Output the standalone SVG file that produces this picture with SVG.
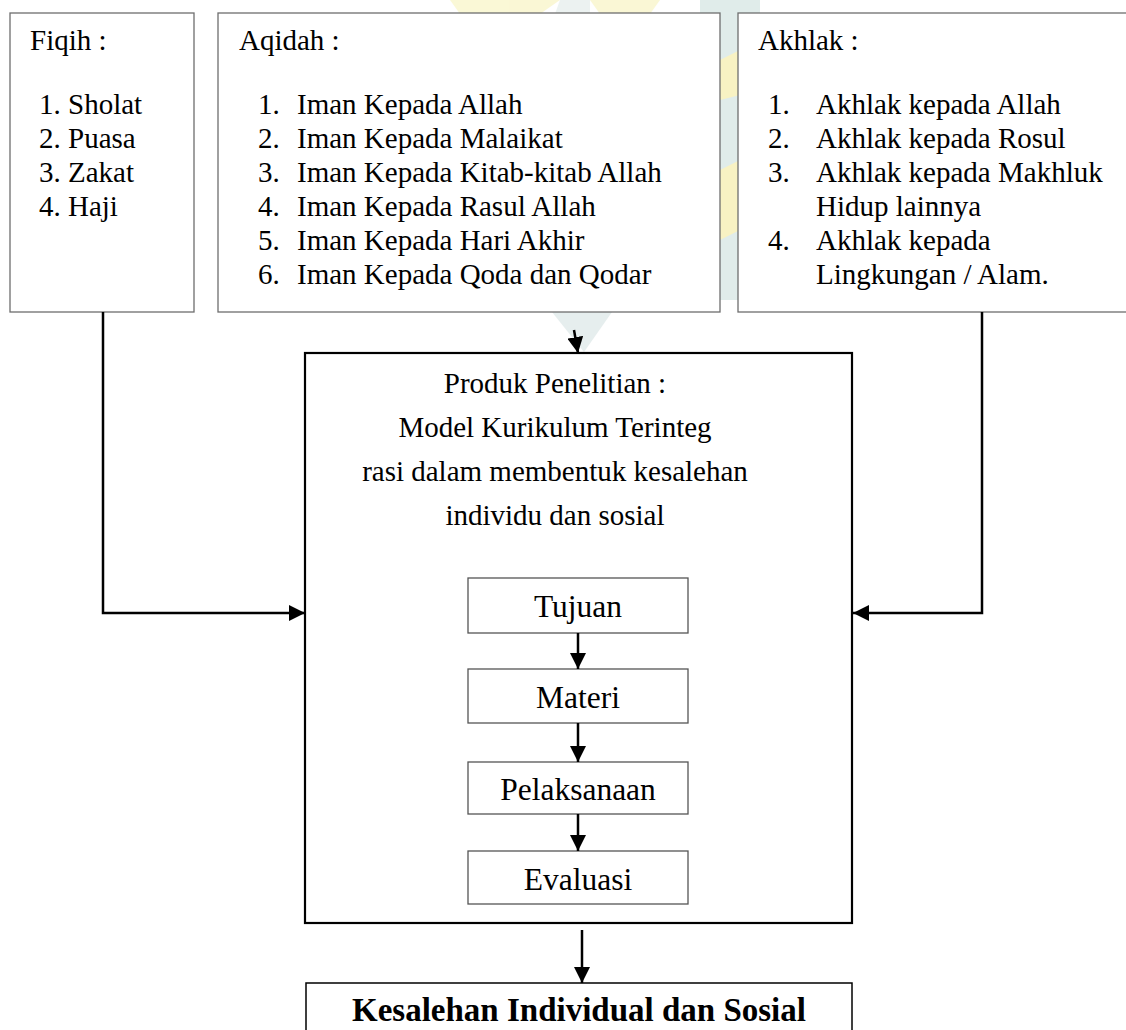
<svg xmlns="http://www.w3.org/2000/svg" width="1126" height="1030" viewBox="0 0 1126 1030">
<style>
  text { font-family: "Liberation Serif", "Times New Roman", serif; fill: #000; }
  .t29 { font-size: 29px; }
  .t32 { font-size: 31.5px; }
  .bold { font-size: 33px; font-weight: bold; }
  .box { fill: #fff; stroke: #6e6e6e; stroke-width: 1.3; }
  .main { fill: #fff; stroke: #000; stroke-width: 2.2; }
  .inner { fill: #fff; stroke: #555; stroke-width: 1.3; }
  .conn { fill: none; stroke: #000; stroke-width: 2.5; }
  .mid { text-anchor: middle; }
</style>
<defs>
  <marker id="arr" markerUnits="userSpaceOnUse" markerWidth="16" markerHeight="16" viewBox="0 0 16 16" refX="16" refY="8" orient="auto">
    <path d="M0,0 L16,8 L0,16 Z" fill="#000"/>
  </marker>
</defs>
<rect width="1126" height="1030" fill="#fff"/>
<g id="watermark" opacity="0.35">
  <polygon points="450,0 560,0 540,14 460,14" fill="#f2ea8a"/>
  <polygon points="590,0 660,0 650,14 600,14" fill="#f2ea8a"/>
  <polygon points="560,0 590,0 590,14 555,14" fill="#c9dcd9"/>
  <polygon points="700,0 760,0 760,300 720,300 700,14" fill="#a9c9c4"/>
  <polygon points="720,60 740,50 740,95 720,100" fill="#ecdc55"/>
  <polygon points="720,170 740,160 740,230 720,240" fill="#ecdc55"/>
  <polygon points="552,312 612,312 584,352" fill="#b8cfcf"/>
</g>
<g id="fiqih">
  <rect class="box" x="10" y="13" width="184" height="299"/>
  <text class="t29" x="30" y="50">Fiqih :</text>
  <text class="t29" x="39" y="114">1. Sholat</text>
  <text class="t29" x="39" y="148">2. Puasa</text>
  <text class="t29" x="39" y="182">3. Zakat</text>
  <text class="t29" x="39" y="216">4. Haji</text>
</g>
<g id="aqidah">
  <rect class="box" x="218" y="13" width="502" height="299"/>
  <text class="t29" x="239" y="50">Aqidah :</text>
  <g class="t29">
    <text x="258" y="114">1.</text><text x="297" y="114">Iman Kepada Allah</text>
    <text x="258" y="148">2.</text><text x="297" y="148">Iman Kepada Malaikat</text>
    <text x="258" y="182">3.</text><text x="297" y="182">Iman Kepada Kitab-kitab Allah</text>
    <text x="258" y="216">4.</text><text x="297" y="216">Iman Kepada Rasul Allah</text>
    <text x="258" y="250">5.</text><text x="297" y="250">Iman Kepada Hari Akhir</text>
    <text x="258" y="284">6.</text><text x="297" y="284">Iman Kepada Qoda dan Qodar</text>
  </g>
</g>
<g id="akhlak">
  <rect class="box" x="738" y="13" width="400" height="299"/>
  <text class="t29" x="758" y="50">Akhlak :</text>
  <g class="t29">
    <text x="768" y="114">1.</text><text x="816" y="114">Akhlak kepada Allah</text>
    <text x="768" y="148">2.</text><text x="816" y="148">Akhlak kepada Rosul</text>
    <text x="768" y="182">3.</text><text x="816" y="182">Akhlak kepada Makhluk</text>
    <text x="816" y="216">Hidup lainnya</text>
    <text x="768" y="250">4.</text><text x="816" y="250">Akhlak kepada</text>
    <text x="816" y="284">Lingkungan / Alam.</text>
  </g>
</g>
<g id="produk">
  <rect class="main" x="305" y="353" width="547" height="570"/>
  <text class="t29 mid" x="555" y="393">Produk Penelitian :</text>
  <text class="t29 mid" x="555" y="437">Model Kurikulum Terinteg</text>
  <text class="t29 mid" x="555" y="481">rasi dalam membentuk kesalehan</text>
  <text class="t29 mid" x="555" y="525">individu dan sosial</text>
</g>
<g id="tujuan">
  <rect class="inner" x="468" y="578" width="220" height="55"/>
  <text class="t32 mid" x="578" y="617">Tujuan</text>
</g>
<g id="materi">
  <rect class="inner" x="468" y="669" width="220" height="54"/>
  <text class="t32 mid" x="578" y="708">Materi</text>
</g>
<g id="pelaksanaan">
  <rect class="inner" x="468" y="762" width="220" height="52"/>
  <text class="t32 mid" x="578" y="800">Pelaksanaan</text>
</g>
<g id="evaluasi">
  <rect class="inner" x="468" y="851" width="220" height="53"/>
  <text class="t32 mid" x="578" y="890">Evaluasi</text>
</g>
<g id="kesalehan">
  <rect fill="#fff" stroke="#000" stroke-width="1.5" x="306" y="983" width="546" height="60"/>
  <text class="bold mid" x="579" y="1021">Kesalehan Individual dan Sosial</text>
</g>
<g id="connectors">
  <polyline class="conn" points="103,312 103,613 305,613" marker-end="url(#arr)"/>
  <polyline class="conn" points="982,312 982,613 853,613" marker-end="url(#arr)"/>
  <line class="conn" x1="574" y1="330" x2="578" y2="353" marker-end="url(#arr)"/>
  <line class="conn" x1="578" y1="633" x2="578" y2="669" marker-end="url(#arr)"/>
  <line class="conn" x1="578" y1="723" x2="578" y2="762" marker-end="url(#arr)"/>
  <line class="conn" x1="578" y1="814" x2="578" y2="851" marker-end="url(#arr)"/>
  <line class="conn" x1="582" y1="930" x2="582" y2="983" marker-end="url(#arr)"/>
</g>
</svg>
